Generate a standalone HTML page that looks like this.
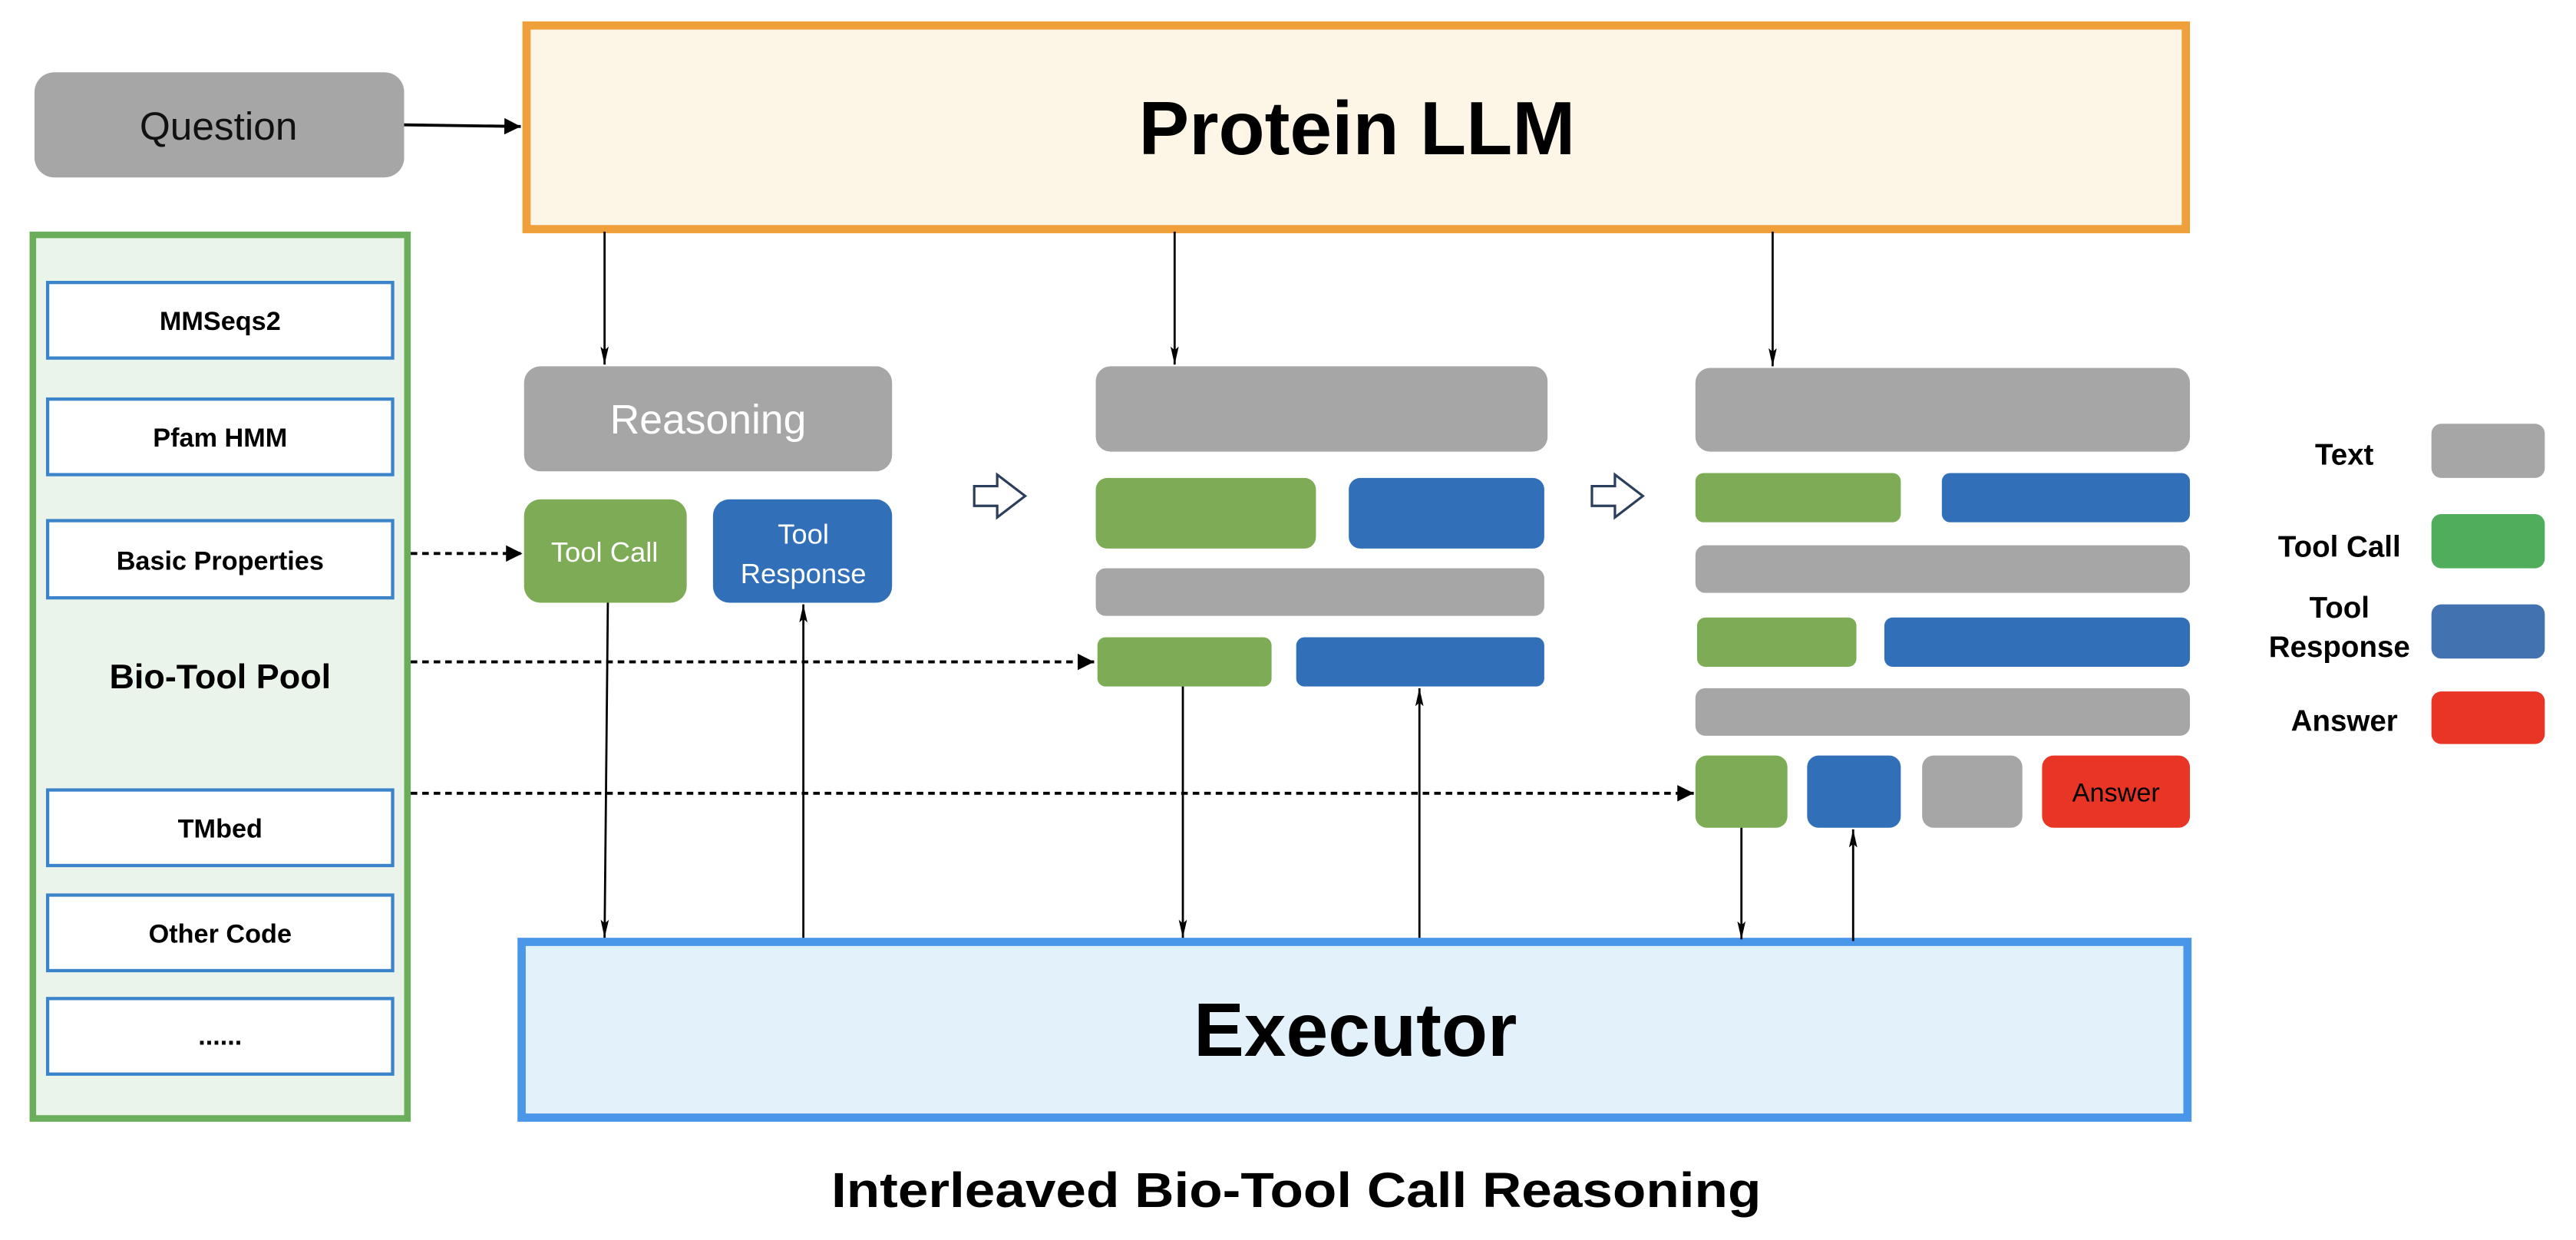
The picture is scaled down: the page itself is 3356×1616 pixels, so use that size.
<!DOCTYPE html>
<html><head><meta charset="utf-8"><style>html,body{margin:0;padding:0;background:#fff}svg{display:block}</style></head>
<body>
<svg width="3356" height="1616" viewBox="0 0 1568 755" xmlns="http://www.w3.org/2000/svg" font-family="Liberation Sans, sans-serif">
<defs>
<marker id="ah2" viewBox="0 0 10 10" refX="10" refY="5" markerWidth="11" markerHeight="10" orient="auto" markerUnits="userSpaceOnUse"><path d="M0,0 L10,5 L0,10 z" fill="#000"/></marker>
<marker id="ahn" viewBox="0 0 10 10" refX="10" refY="5" markerWidth="11" markerHeight="5" orient="auto" markerUnits="userSpaceOnUse" preserveAspectRatio="none"><path d="M0,0 L10,5 L0,10 L2,5 z" fill="#000"/></marker>
</defs>
<rect width="1568" height="755" fill="#fff"/>
<!-- Question -->
<rect x="21" y="44" width="225" height="64" rx="12" fill="#a6a6a6"/>
<text x="133" y="85" font-size="24" text-anchor="middle" fill="#111">Question</text>
<line x1="246" y1="76" x2="317" y2="77" stroke="#000" stroke-width="1.8" marker-end="url(#ah2)"/>
<!-- Protein LLM -->
<rect x="320.5" y="15.5" width="1010" height="124" fill="#fdf6e6" stroke="#f0a03a" stroke-width="5"/>
<text x="826" y="94" font-size="46" font-weight="bold" text-anchor="middle" fill="#000">Protein LLM</text>
<!-- Bio tool pool -->
<rect x="20" y="143" width="228" height="538" fill="#eaf4ea" stroke="#6aad5a" stroke-width="4"/>
<g fill="#fff" stroke="#3b84c9" stroke-width="2">
<rect x="29" y="172" width="210" height="46"/>
<rect x="29" y="243" width="210" height="46"/>
<rect x="29" y="317" width="210" height="47"/>
<rect x="29" y="481" width="210" height="46"/>
<rect x="29" y="545" width="210" height="46"/>
<rect x="29" y="608" width="210" height="46"/>
</g>
<g font-size="16" font-weight="bold" text-anchor="middle" fill="#000">
<text x="134" y="201">MMSeqs2</text>
<text x="134" y="272">Pfam HMM</text>
<text x="134" y="347">Basic Properties</text>
<text x="134" y="510">TMbed</text>
<text x="134" y="574">Other Code</text>
<text x="134" y="636">......</text>
</g>
<text x="134" y="419" font-size="21" font-weight="bold" text-anchor="middle" fill="#000">Bio-Tool Pool</text>
<!-- Executor -->
<rect x="317.5" y="573.5" width="1014" height="107" fill="#e3f1fb" stroke="#4a96e8" stroke-width="5"/>
<text x="825" y="643" font-size="46" font-weight="bold" text-anchor="middle" fill="#000">Executor</text>
<!-- column 1 -->
<rect x="319" y="223" width="224" height="64" rx="10" fill="#a6a6a6"/>
<text x="431" y="264" font-size="25" text-anchor="middle" fill="#fff">Reasoning</text>
<rect x="319" y="304" width="99" height="63" rx="10" fill="#7eab56"/>
<text x="368" y="342" font-size="17" text-anchor="middle" fill="#fff">Tool Call</text>
<rect x="434" y="304" width="109" height="63" rx="10" fill="#3170b9"/>
<text x="489" y="331" font-size="17" text-anchor="middle" fill="#fff">Tool</text>
<text x="489" y="355" font-size="17" text-anchor="middle" fill="#fff">Response</text>
<!-- hollow arrows -->
<path d="M593,296 L607,296 L607,289 L624,302 L607,315 L607,308 L593,308 z" fill="#fff" stroke="#2b3f5c" stroke-width="1.5"/>
<path d="M969,296 L983,296 L983,289 L1000,302 L983,315 L983,308 L969,308 z" fill="#fff" stroke="#2b3f5c" stroke-width="1.5"/>
<!-- column 2 -->
<rect x="667" y="223" width="275" height="52" rx="9" fill="#a6a6a6"/>
<rect x="667" y="291" width="134" height="43" rx="7" fill="#7eab56"/>
<rect x="821" y="291" width="119" height="43" rx="7" fill="#3170b9"/>
<rect x="667" y="346" width="273" height="29" rx="6" fill="#a6a6a6"/>
<rect x="668" y="388" width="106" height="30" rx="5" fill="#7eab56"/>
<rect x="789" y="388" width="151" height="30" rx="5" fill="#3170b9"/>
<!-- column 3 -->
<rect x="1032" y="224" width="301" height="51" rx="9" fill="#a6a6a6"/>
<rect x="1032" y="288" width="125" height="30" rx="5" fill="#7eab56"/>
<rect x="1182" y="288" width="151" height="30" rx="5" fill="#3170b9"/>
<rect x="1032" y="332" width="301" height="29" rx="6" fill="#a6a6a6"/>
<rect x="1033" y="376" width="97" height="30" rx="5" fill="#7eab56"/>
<rect x="1147" y="376" width="186" height="30" rx="5" fill="#3170b9"/>
<rect x="1032" y="419" width="301" height="29" rx="6" fill="#a6a6a6"/>
<rect x="1032" y="460" width="56" height="44" rx="7" fill="#7eab56"/>
<rect x="1100" y="460" width="57" height="44" rx="7" fill="#3170b9"/>
<rect x="1170" y="460" width="61" height="44" rx="7" fill="#a6a6a6"/>
<rect x="1243" y="460" width="90" height="44" rx="7" fill="#e83526"/>
<text x="1288" y="488" font-size="16" text-anchor="middle" fill="#000">Answer</text>
<!-- legend -->
<g font-size="18" font-weight="bold" text-anchor="middle" fill="#000">
<text x="1427" y="283">Text</text>
<text x="1424" y="339">Tool Call</text>
<text x="1424" y="376">Tool</text>
<text x="1424" y="400">Response</text>
<text x="1427" y="445">Answer</text>
</g>
<rect x="1480" y="258" width="69" height="33" rx="6" fill="#a6a6a6"/>
<rect x="1480" y="313" width="69" height="33" rx="6" fill="#50ad5c"/>
<rect x="1480" y="368" width="69" height="33" rx="6" fill="#4272b0"/>
<rect x="1480" y="421" width="69" height="32" rx="6" fill="#e83526"/>
<!-- arrows -->
<g stroke="#000" stroke-width="1.3" fill="none">
<line x1="368" y1="141" x2="368" y2="222" marker-end="url(#ahn)"/>
<line x1="715" y1="141" x2="715" y2="222" marker-end="url(#ahn)"/>
<line x1="1079" y1="141" x2="1079" y2="223" marker-end="url(#ahn)"/>
<line x1="370" y1="367" x2="368" y2="571" marker-end="url(#ahn)"/>
<line x1="489" y1="571" x2="489" y2="368" marker-end="url(#ahn)"/>
<line x1="720" y1="418" x2="720" y2="571" marker-end="url(#ahn)"/>
<line x1="864" y1="571" x2="864" y2="419" marker-end="url(#ahn)"/>
<line x1="1060" y1="504" x2="1060" y2="572" marker-end="url(#ahn)"/>
<line x1="1128" y1="573" x2="1128" y2="505" marker-end="url(#ahn)"/>
</g>
<g stroke="#000" stroke-width="1.8" stroke-dasharray="4,3" fill="none">
<line x1="250" y1="337" x2="318" y2="337" marker-end="url(#ah2)"/>
<line x1="250" y1="403" x2="666" y2="403" marker-end="url(#ah2)"/>
<line x1="250" y1="483" x2="1031" y2="483" marker-end="url(#ah2)"/>
</g>
<text x="506" y="735" font-size="30" font-weight="bold" fill="#000" textLength="566" lengthAdjust="spacingAndGlyphs">Interleaved Bio-Tool Call Reasoning</text>
</svg>
</body></html>
